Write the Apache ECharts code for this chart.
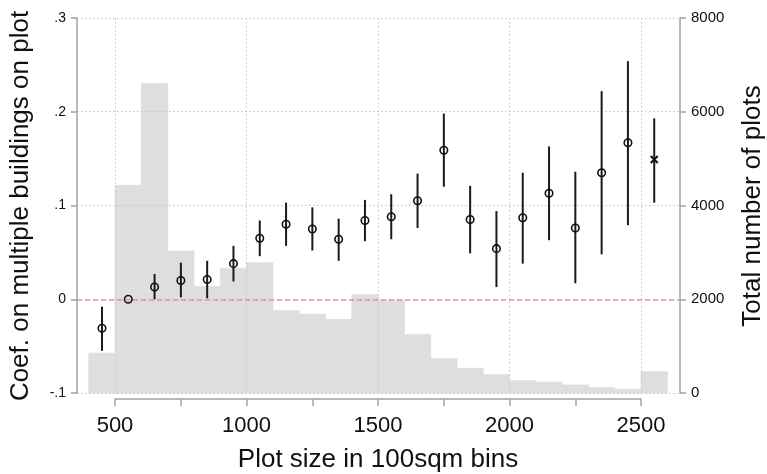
<!DOCTYPE html>
<html>
<head>
<meta charset="utf-8">
<style>
  html, body { margin: 0; padding: 0; background: #fff; }
  #chart { width: 767px; height: 474px; }
</style>
<script src="https://cdn.jsdelivr.net/npm/echarts@6/dist/echarts.min.js"></script>
</head>
<body>
<div id="chart"></div>
<script>
// Plot-size bins (100 sqm units): histogram bins start every 100, points sit at bin centres
const binStarts = [400, 500, 600, 700, 800, 900, 1000, 1100, 1200, 1300, 1400, 1500, 1600, 1700, 1800, 1900, 2000, 2100, 2200, 2300, 2400, 2500];
const binWidth = 100;
const plotCounts = [850, 4430, 6600, 3030, 2270, 2660, 2780, 1760, 1680, 1570, 2100, 1980, 1250, 735, 527, 390, 263, 228, 171, 113, 79, 454];

const binCenters = [450, 550, 650, 750, 850, 950, 1050, 1150, 1250, 1350, 1450, 1550, 1650, 1750, 1850, 1950, 2050, 2150, 2250, 2350, 2450, 2550];
const coef   = [-0.031, 0, 0.013, 0.020, 0.021, 0.038, 0.065, 0.080, 0.075, 0.064, 0.084, 0.088, 0.105, 0.159, 0.085, 0.054, 0.087, 0.113, 0.076, 0.135, 0.167, 0.149];
const ciLow  = [-0.055, null, 0.000, 0.002, 0.001, 0.019, 0.046, 0.057, 0.052, 0.041, 0.062, 0.064, 0.076, 0.120, 0.049, 0.013, 0.038, 0.063, 0.017, 0.048, 0.079, 0.103];
const ciHigh = [-0.008, null, 0.027, 0.039, 0.041, 0.057, 0.084, 0.103, 0.098, 0.086, 0.106, 0.112, 0.134, 0.198, 0.121, 0.094, 0.135, 0.163, 0.136, 0.222, 0.254, 0.193];
// marker per bin: 'o' hollow circle, 'x' cross
const markers = ['o','o','o','o','o','o','o','o','o','o','o','o','o','o','o','o','o','o','o','o','o','x'];

// Tick labels
const leftTickLabels = { '-0.1': '-.1', '0': '0', '0.1': '.1', '0.2': '.2', '0.3': '.3' };
const xTitle = 'Plot size in 100sqm bins';
const leftTitle = 'Coef. on multiple buildings on plot';
const rightTitle = 'Total number of plots';

const FONT = '"Liberation Sans", Arial, Helvetica, sans-serif';
const TEXT = '#111';
const AXIS = '#a3a3a3';
const GRIDLINE = { color: '#c2c2c2', width: 1, type: [1.5, 2.5] };

const histData = binStarts.map((s, i) => [s, s + binWidth, plotCounts[i]]);
const ciData = [];
binCenters.forEach((x, i) => {
  if (ciLow[i] !== null && ciHigh[i] !== null) ciData.push([x, ciLow[i], ciHigh[i]]);
});
const circleData = [], crossData = [];
binCenters.forEach((x, i) => {
  (markers[i] === 'x' ? crossData : circleData).push([x, coef[i]]);
});

const chart = echarts.init(document.getElementById('chart'), null, { renderer: 'canvas' });

chart.setOption({
  animation: false,
  backgroundColor: '#fff',
  textStyle: { fontFamily: FONT },
  grid: [
    // main plot region
    { left: 77, right: 87, top: 18, bottom: 81 },
    // vertical gridlines at the labelled x values
    { left: 115, right: 126, top: 18, bottom: 81 },
    // detached x axis below the plot region
    { left: 115, right: 126, top: 395, bottom: 69 }
  ],
  xAxis: [
    { type: 'value', gridIndex: 0, min: 355, max: 2648, show: false },
    {
      type: 'value', gridIndex: 1, min: 500, max: 2500, interval: 500, z: 2,
      axisLine: { show: false }, axisTick: { show: false }, axisLabel: { show: false },
      splitLine: { show: true, lineStyle: GRIDLINE }
    },
    {
      type: 'value', gridIndex: 2, min: 500, max: 2500, interval: 250,
      position: 'bottom',
      axisLine: { show: true, lineStyle: { color: AXIS, width: 1.5 } },
      axisTick: { show: true, length: 7, lineStyle: { color: AXIS, width: 1.5 } },
      axisLabel: {
        fontSize: 22, color: TEXT, margin: 16, fontFamily: FONT,
        formatter: v => (v % 500 === 0 ? String(v) : '')
      },
      splitLine: { show: false },
      name: xTitle, nameLocation: 'middle', nameGap: 48,
      nameTextStyle: { fontSize: 26, color: TEXT, fontFamily: FONT }
    }
  ],
  yAxis: [
    {
      type: 'value', gridIndex: 0, min: -0.1, max: 0.3, interval: 0.1, position: 'left', z: 2,
      axisLine: { show: true, lineStyle: { color: AXIS, width: 1.5 } },
      axisTick: { show: true, length: 6, lineStyle: { color: AXIS, width: 1.5 } },
      axisLabel: {
        fontSize: 14, color: TEXT, margin: 11, fontFamily: FONT,
        formatter: v => leftTickLabels[String(Math.round(v * 10) / 10)] || ''
      },
      splitLine: { show: true, lineStyle: GRIDLINE }
    },
    {
      type: 'value', gridIndex: 0, min: 0, max: 8000, interval: 2000, position: 'right', z: 2,
      axisLine: { show: true, lineStyle: { color: AXIS, width: 1.5 } },
      axisTick: { show: true, length: 6, lineStyle: { color: AXIS, width: 1.5 } },
      axisLabel: { fontSize: 15, color: TEXT, margin: 11, fontFamily: FONT, formatter: v => String(v) },
      splitLine: { show: false }
    },
    { type: 'value', gridIndex: 1, min: 0, max: 1, show: false },
    { type: 'value', gridIndex: 2, min: 0, max: 1, show: false }
  ],
  graphic: [
    {
      type: 'text', x: 21, y: 206, rotation: Math.PI / 2,
      style: { text: leftTitle, fontSize: 26, fontFamily: FONT, fill: TEXT, align: 'center', verticalAlign: 'middle' }
    },
    {
      type: 'text', x: 753, y: 206, rotation: Math.PI / 2,
      style: { text: rightTitle, fontSize: 26, fontFamily: FONT, fill: TEXT, align: 'center', verticalAlign: 'middle' }
    }
  ],
  series: [
    {
      // histogram of plot counts (right axis)
      type: 'custom', xAxisIndex: 0, yAxisIndex: 1, z: 1,
      silent: true,
      data: histData,
      renderItem: (params, api) => {
        const p0 = api.coord([api.value(0), api.value(2)]);
        const p1 = api.coord([api.value(1), 0]);
        return {
          type: 'rect',
          shape: { x: p0[0], y: p0[1], width: p1[0] - p0[0], height: p1[1] - p0[1] },
          style: { fill: '#dedede', stroke: '#dedede', lineWidth: 0.8 }
        };
      }
    },
    {
      // confidence intervals
      type: 'custom', xAxisIndex: 0, yAxisIndex: 0, z: 3,
      silent: true,
      data: ciData,
      renderItem: (params, api) => {
        const a = api.coord([api.value(0), api.value(1)]);
        const b = api.coord([api.value(0), api.value(2)]);
        return {
          type: 'line',
          shape: { x1: a[0], y1: a[1], x2: b[0], y2: b[1] },
          style: { stroke: '#1a1a1a', lineWidth: 2 }
        };
      },
      markLine: {
        silent: true, symbol: 'none',
        label: { show: false },
        lineStyle: { color: '#da93bd', width: 1.5, type: [5, 3] },
        data: [{ yAxis: 0 }]
      }
    },
    {
      type: 'scatter', xAxisIndex: 0, yAxisIndex: 0, z: 4,
      data: circleData,
      symbol: 'circle', symbolSize: 7.5,
      itemStyle: { color: 'rgba(0,0,0,0)', borderColor: '#111', borderWidth: 1.6, opacity: 1 }
    },
    {
      type: 'scatter', xAxisIndex: 0, yAxisIndex: 0, z: 4,
      data: crossData,
      symbol: 'path://M0,0L10,10M10,0L0,10', symbolSize: 7,
      itemStyle: { color: 'rgba(0,0,0,0)', borderColor: '#111', borderWidth: 2, opacity: 1 }
    }
  ]
});
</script>
</body>
</html>
